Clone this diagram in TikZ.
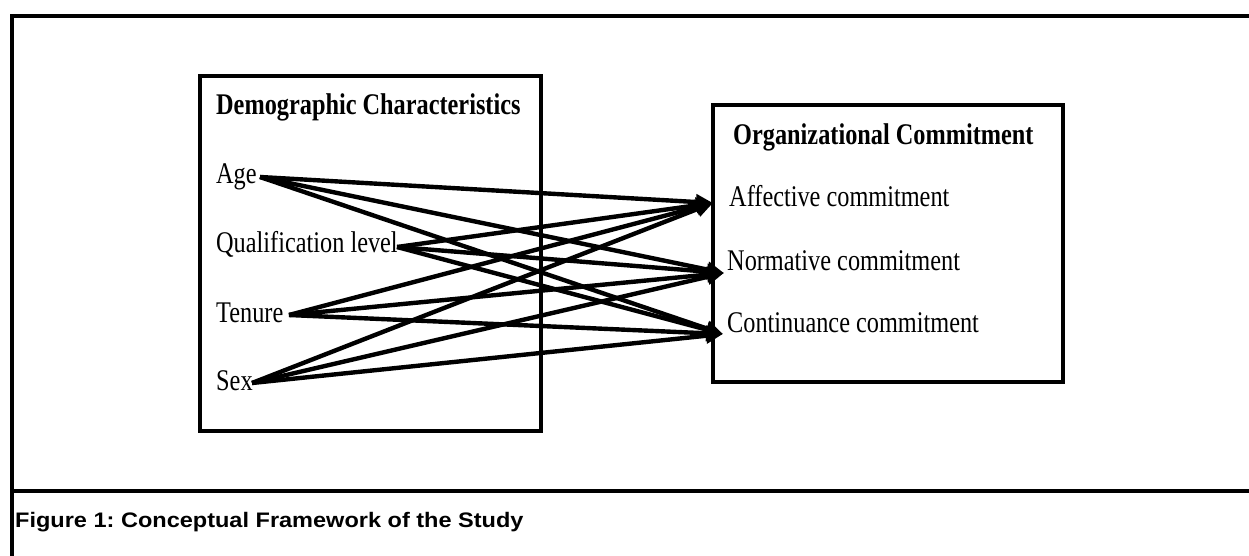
\documentclass[tikz,border=0pt]{standalone}
\usepackage{fontspec}
\setmainfont[FakeStretch=0.81]{Liberation Serif}
\newfontfamily\capfont[FakeStretch=1.12]{Liberation Sans}
\usetikzlibrary{arrows.meta}
\frenchspacing
\begin{document}
\begin{tikzpicture}[x=1pt,y=-1pt,
  frameline/.style={line width=3.5pt},
  boxline/.style={line width=3.2pt},
  label/.style={anchor=base west,inner sep=0pt,font=\fontsize{30}{36}\selectfont},
  heading/.style={label,font=\fontsize{30}{36}\selectfont\bfseries},
  link/.style={line width=4.4pt,-{Triangle[length=17pt,width=15pt]}}]
\useasboundingbox (0,0) rectangle (1249,556);

% outer frame and caption divider
\draw[frameline] (1249,16) -- (12,16) -- (12,556);
\draw[frameline] (12,491) -- (1249,491);
\node[anchor=base west,inner sep=0pt,font=\capfont\fontsize{21}{25}\selectfont\bfseries]
  (caption) at (15,527) {Figure 1: Conceptual Framework of the Study};

% the two boxes
\draw[boxline] (200,76) rectangle (541,431);
\draw[boxline] (713,105) rectangle (1063,382);

% left box texts
\node[heading] (demo) at (216,115) {Demographic Characteristics};
\node[label] (age) at (216,183) {Age};
\node[label] (qual) at (216,252) {Qualification level};
\node[label] (ten) at (216,322) {Tenure};
\node[label] (sex) at (216,390) {Sex};

% right box texts
\node[heading] (org) at (733,145) {Organizational Commitment};
\node[label] (aff) at (729,206) {Affective commitment};
\node[label] (norm) at (727,270) {Normative commitment};
\node[label] (cont) at (727,332) {Continuance commitment};

% connector end points
\coordinate (ageS) at (260,177);
\coordinate (qualS) at (397,247);
\coordinate (tenS) at (289,315);
\coordinate (sexS) at (252,383);
\coordinate (affT) at (713,203);
\coordinate (normT) at (724,273);
\coordinate (contT) at (723,334);

% every characteristic to every commitment component
\foreach \s in {ageS,qualS,tenS,sexS}
  \foreach \t in {affT,normT,contT}
    \draw[link] (\s) -- (\t);
\end{tikzpicture}
\end{document}
